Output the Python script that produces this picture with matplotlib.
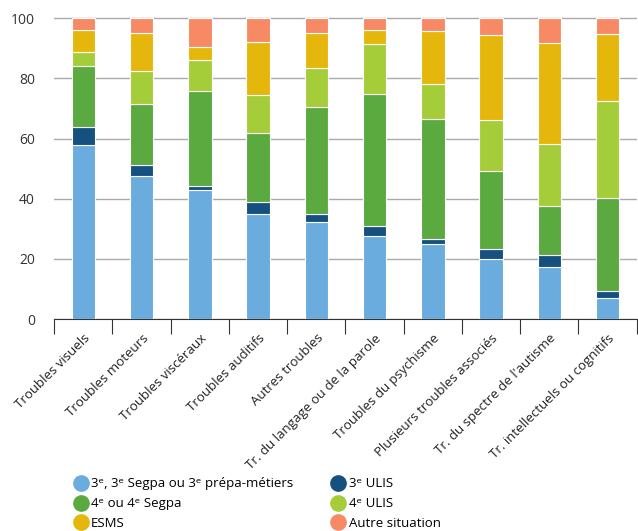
import matplotlib.pyplot as plt
from matplotlib.lines import Line2D
import numpy as np

plt.rcParams['font.family'] = ['Open Sans', 'DejaVu Sans']

categories = ["Troubles visuels", "Troubles moteurs", "Troubles viscéraux", "Troubles auditifs",
              "Autres troubles", "Tr. du langage ou de la parole", "Troubles du psychisme",
              "Plusieurs troubles associés", "Tr. du spectre de l'autisme",
              "Tr. intellectuels ou cognitifs"]

troisieme = [57.7, 47.5, 42.8, 34.8, 32.3, 27.6, 24.9, 20.0, 17.2, 7.0]
troisieme_ulis = [6.2, 3.8, 1.4, 4.2, 2.5, 3.4, 1.8, 3.2, 4.1, 2.5]
quatrieme = [20.3, 20.1, 31.7, 22.7, 35.8, 43.9, 39.8, 26.1, 16.3, 30.9]
quatrieme_ulis = [4.6, 11.0, 10.3, 12.8, 12.9, 16.4, 11.7, 16.8, 20.5, 32.0]
esms = [7.3, 12.8, 4.2, 17.7, 11.5, 4.7, 17.5, 28.4, 33.5, 22.5]
autre = [3.9, 4.8, 9.6, 7.8, 5.0, 4.0, 4.3, 5.5, 8.4, 5.1]

series = [
    ("3ᵉ, 3ᵉ Segpa ou 3ᵉ prépa-métiers", troisieme, '#6aacde'),
    ("3ᵉ ULIS", troisieme_ulis, '#16507f'),
    ("4ᵉ ou 4ᵉ Segpa", quatrieme, '#5aaa40'),
    ("4ᵉ ULIS", quatrieme_ulis, '#a5cd39'),
    ("ESMS", esms, '#e5b60b'),
    ("Autre situation", autre, '#f78a65'),
]

fig = plt.figure(figsize=(6.38, 5.31), dpi=100)
ax = fig.add_axes([0.085, 0.399, 0.913, 0.569])

x = np.arange(len(categories))
bottom = np.zeros(len(categories))
for name, vals, col in series:
    ax.bar(x, vals, 0.4, bottom=bottom, color=col, edgecolor='white', linewidth=0.8,
           label=name, zorder=3)
    bottom += np.array(vals)

ax.set_xlim(-0.5, len(categories) - 0.5)
ax.set_ylim(0, 100.4)
ax.set_yticks([0, 20, 40, 60, 80, 100])
ax.grid(axis='y', color='#aaaaaa', linewidth=1, zorder=0)
ax.tick_params(axis='y', length=0, labelsize=10, labelcolor='#333333', pad=14)

ax.set_xticks(x)
ax.set_xticklabels(categories, rotation=45, ha='right', rotation_mode='anchor',
                   fontsize=9.5, color='#222222')
ax.tick_params(axis='x', which='major', length=0, pad=9)
ax.set_xticks(np.arange(-0.5, len(categories)), minor=True)
ax.tick_params(axis='x', which='minor', length=11, width=0.8, color='#333333')

for s in ['left', 'right', 'top']:
    ax.spines[s].set_visible(False)
ax.spines['bottom'].set_color('#333333')
ax.spines['bottom'].set_linewidth(0.8)

# legend in two columns, column-wise fill
order = [0, 2, 4, 1, 3, 5]
handles = [Line2D([], [], marker='o', linestyle='', markersize=11,
                  markerfacecolor=series[i][2], markeredgecolor=series[i][2]) for i in order]
labels = [series[i][0] for i in order]
fig.legend(handles, labels, loc='upper left', bbox_to_anchor=(0.116, 0.101), ncol=2,
           frameon=False, fontsize=9.5, handletextpad=0.3, columnspacing=2.9,
           labelspacing=0.52, handlelength=1.0, borderaxespad=0, borderpad=0)

fig.savefig('out.png', dpi=100)
